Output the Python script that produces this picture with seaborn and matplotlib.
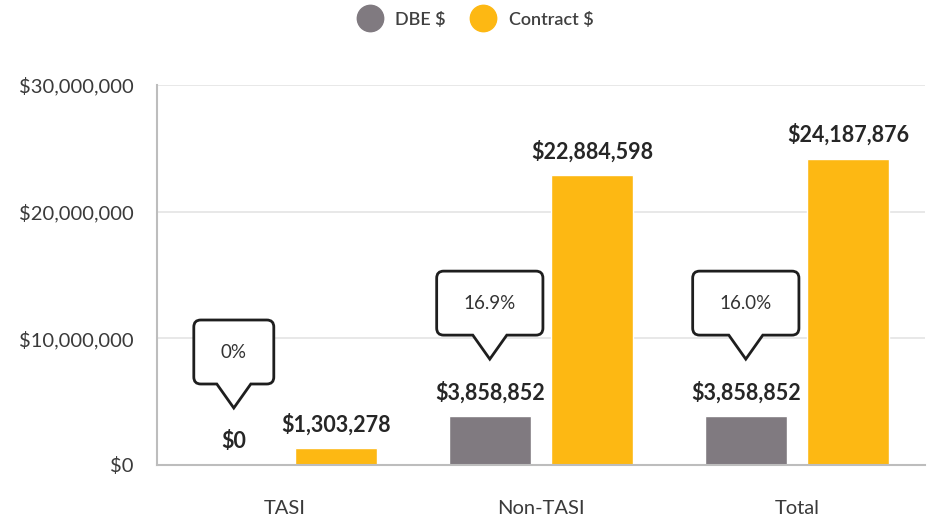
import numpy as np
import pandas as pd
import matplotlib
matplotlib.use("Agg")
import matplotlib.pyplot as plt
import matplotlib.transforms as mtransforms
from matplotlib.path import Path
from matplotlib.patches import PathPatch
from matplotlib.lines import Line2D
from matplotlib.ticker import FuncFormatter
import seaborn as sns

# Contract dollars and DBE participation by program
categories = ["TASI", "Non-TASI", "Total"]
dbe_dollars = [0, 3858852, 3858852]
contract_dollars = [1303278, 22884598, 24187876]
series_names = ["DBE $", "Contract $"]

GREY = "#807a80"
GOLD = "#fdb813"
INK = "#262626"

sns.set_theme(style="white")
plt.rcParams["font.family"] = ["Lato", "DejaVu Sans"]

df = pd.DataFrame({
    "category": categories * 2,
    "series": [series_names[0]] * 3 + [series_names[1]] * 3,
    "value": dbe_dollars + contract_dollars,
})

DPI = 100
fig = plt.figure(figsize=(9.3, 5.2), dpi=DPI)
ax = fig.add_axes([157 / 930, 55 / 520, 768 / 930, 380 / 520])

sns.barplot(data=df, x="category", y="value", hue="series", order=categories,
            hue_order=series_names, palette=[GREY, GOLD], width=0.8, gap=0.2,
            saturation=1, legend=False, ax=ax)

ax.set_xlim(-0.5, 2.5)
ax.set_ylim(0, 30_000_000)
ax.set_yticks([0, 10_000_000, 20_000_000, 30_000_000])
ax.yaxis.set_major_formatter(FuncFormatter(lambda v, _: f"${v:,.0f}"))
ax.set_xlabel("")
ax.set_ylabel("")
ax.grid(axis="y", color="#e4e4e4", linewidth=1.2)
ax.set_axisbelow(True)
for side in ["top", "right"]:
    ax.spines[side].set_visible(False)
for side in ["left", "bottom"]:
    ax.spines[side].set_color("#bdbdbd")
    ax.spines[side].set_linewidth(1.5)
ax.tick_params(axis="y", length=0, pad=17, labelsize=14.5, labelcolor="#3a3a3a")
ax.tick_params(axis="x", length=0, pad=25, labelsize=14.5, labelcolor="#3a3a3a")

# Value labels above each bar
dodge = 0.2
for i, cat in enumerate(categories):
    for j, vals in enumerate([dbe_dollars, contract_dollars]):
        x = i + (-dodge if j == 0 else dodge)
        ax.annotate(f"${vals[i]:,.0f}", xy=(x, vals[i]), xytext=(0, 17),
                    textcoords="offset points", ha="center", va="center",
                    fontsize=15.5, fontweight="bold", color=INK)


def callout_path(w, h, tri_w, tri_h, r):
    """Rounded box with a downward pointer; tip at origin, pixel units."""
    x0, x1 = -w / 2, w / 2
    y0, y1 = tri_h, tri_h + h
    verts = [
        (0, 0), (tri_w / 2, y0), (x1 - r, y0),
        (x1, y0), (x1, y0 + r),
        (x1, y1 - r),
        (x1, y1), (x1 - r, y1),
        (x0 + r, y1),
        (x0, y1), (x0, y1 - r),
        (x0, y0 + r),
        (x0, y0), (x0 + r, y0),
        (-tri_w / 2, y0), (0, 0), (0, 0),
    ]
    codes = [Path.MOVETO, Path.LINETO, Path.LINETO,
             Path.CURVE3, Path.CURVE3,
             Path.LINETO,
             Path.CURVE3, Path.CURVE3,
             Path.LINETO,
             Path.CURVE3, Path.CURVE3,
             Path.LINETO,
             Path.CURVE3, Path.CURVE3,
             Path.LINETO, Path.LINETO, Path.CLOSEPOLY]
    return Path(verts, codes)


# DBE share callouts above the DBE bars
fig.canvas.draw()
renderer = fig.canvas.get_renderer()
for i, cat in enumerate(categories):
    share = dbe_dollars[i] / contract_dollars[i] * 100
    label = f"{share:.1f}%" if share > 0 else "0%"
    x = i - dodge
    y = dbe_dollars[i]
    tip_off = 57
    tri_h, box_h = 24, 64
    t = ax.annotate(label, xy=(x, y), xytext=(0, (tip_off + tri_h + box_h / 2) * 72 / DPI),
                    textcoords="offset points", ha="center", va="center",
                    fontsize=13.5, color="#333333", zorder=6)
    tw = t.get_window_extent(renderer).width
    w = tw + 54
    trans = (mtransforms.Affine2D().translate(0, tip_off)
             + mtransforms.ScaledTranslation(x, y, ax.transData))
    patch = PathPatch(callout_path(w, box_h, 34, tri_h, 7), facecolor="white",
                      edgecolor="#1e1e1e", linewidth=2.0, transform=trans,
                      zorder=5, clip_on=False, joinstyle="miter")
    ax.add_patch(patch)

# Legend across the top
handles = [Line2D([], [], linestyle="none", marker="o", markersize=19,
                  markerfacecolor=c, markeredgecolor=c) for c in [GREY, GOLD]]
leg = fig.legend(handles, series_names, loc="center", bbox_to_anchor=(0.508, 0.962),
                 ncol=2, frameon=False, handletextpad=0.4, columnspacing=1.1,
                 prop={"size": 13, "weight": "semibold"}, labelcolor="#404040")

fig.savefig("out.png", dpi=DPI)
